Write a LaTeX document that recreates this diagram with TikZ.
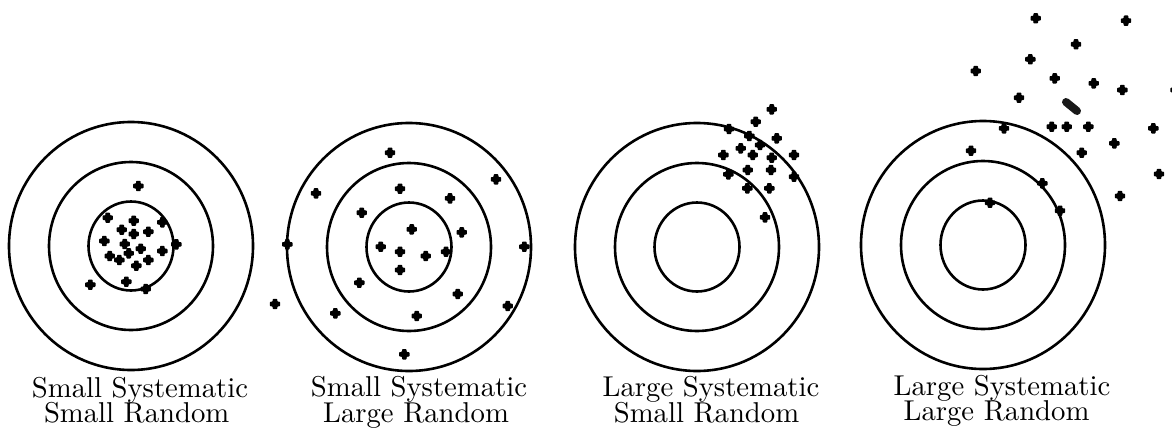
\documentclass[tikz,border=0pt]{standalone}
\begin{document}
\begin{tikzpicture}[x=1pt,y=-1pt,
  ring/.style={line width=2.6pt},
  lbl/.style={anchor=base,inner sep=0pt,scale=2.87,font=\fontsize{10}{12}\selectfont},
  hit/.pic={\fill[rounded corners=0.8pt] (-5.2,-2.3) -- (-2.3,-2.3) -- (-2.3,-5.2) -- (2.3,-5.2) -- (2.3,-2.3) -- (5.2,-2.3) -- (5.2,2.3) -- (2.3,2.3) -- (2.3,5.2) -- (-2.3,5.2) -- (-2.3,2.3) -- (-5.2,2.3) -- cycle;}]
\useasboundingbox (0,0) rectangle (1172,428);
\clip (0,0) rectangle (1172,428);
% targets
\foreach \cx/\cy in {131/246, 409/247, 697/247, 983/245}{
  \draw[ring] (\cx,\cy) ellipse [x radius=42.5, y radius=44.5];
  \draw[ring] (\cx,\cy) ellipse [x radius=82, y radius=84];
  \draw[ring] (\cx,\cy) ellipse [x radius=122, y radius=124];
}
% hits: small systematic, small random
\foreach \x/\y in {138.3/186,107.7/217.7,133.7/220.7,162.3/222.3,121.7/229.7,133.7/234,148.3/231.7,104.3/241,124.7/244,176.3/244.3,140.7/248.7,162.3/251,128.7/253.3,109.7/256,119.3/260,148.3/260,136.3/265.7,90.3/284.7,126.3/281.7,145.7/289}
  \pic at (\x,\y) {hit};
% small systematic, large random
\foreach \x/\y in {390/152.7,496/179.3,316/193.3,400/188.7,450/198.3,361.7/212.7,411.7/229.3,461.7/232.3,287.3/244.3,380.7/246.7,400/251.7,425.7/256,446/251.7,524.3/246.7,400/270,359.3/282.7,457.7/294,275/304,507.7/306,335.3/313.3,416.7/316,404.3/354.3}
  \pic at (\x,\y) {hit};
% large systematic, small random
\foreach \x/\y in {771.7/109.3,755.7/121.7,729/129,749.3/136,776.7/138.3,760/145,740.7/148.3,723.3/155,752.7/155,771.7/157.7,794/155,747.7/170,771/170,728.3/174.3,794/176.7,747.3/188.3,769.3/188.3,765/217.3}
  \pic at (\x,\y) {hit};
% large systematic, large random
\foreach \x/\y in {1035.7/18.3,1126/20.7,1076/44.3,1030.3/59.3,975.7/71,1054.7/78.3,1093.7/83.3,1122.3/90,1175.5/90,1019/97.7,1051.7/126.7,1066.7/126.7,1088.3/126.7,1004/128.3,1153.3/128.3,1114.3/143.3,971/150.7,1081.7/152.7,1159/174,1042.3/183.3,1120/196,990/202.7,1060/210.7}
  \pic at (\x,\y) {hit};
\draw[line width=8pt,line cap=round,black!90] (1066,102) -- (1077,111);
% labels
\node[lbl] (l1a) at (140,397) {Small Systematic};
\node[lbl] (l1b) at (136.7,422.5) {Small Random};
\node[lbl] (l2a) at (419,396) {Small Systematic};
\node[lbl] (l2b) at (416,422) {Large Random};
\node[lbl] (l3a) at (711,396.5) {Large Systematic};
\node[lbl] (l3b) at (706.5,422.5) {Small Random};
\node[lbl] (l4a) at (1002,395) {Large Systematic};
\node[lbl] (l4b) at (996.5,420.3) {Large Random};
\end{tikzpicture}
\end{document}
